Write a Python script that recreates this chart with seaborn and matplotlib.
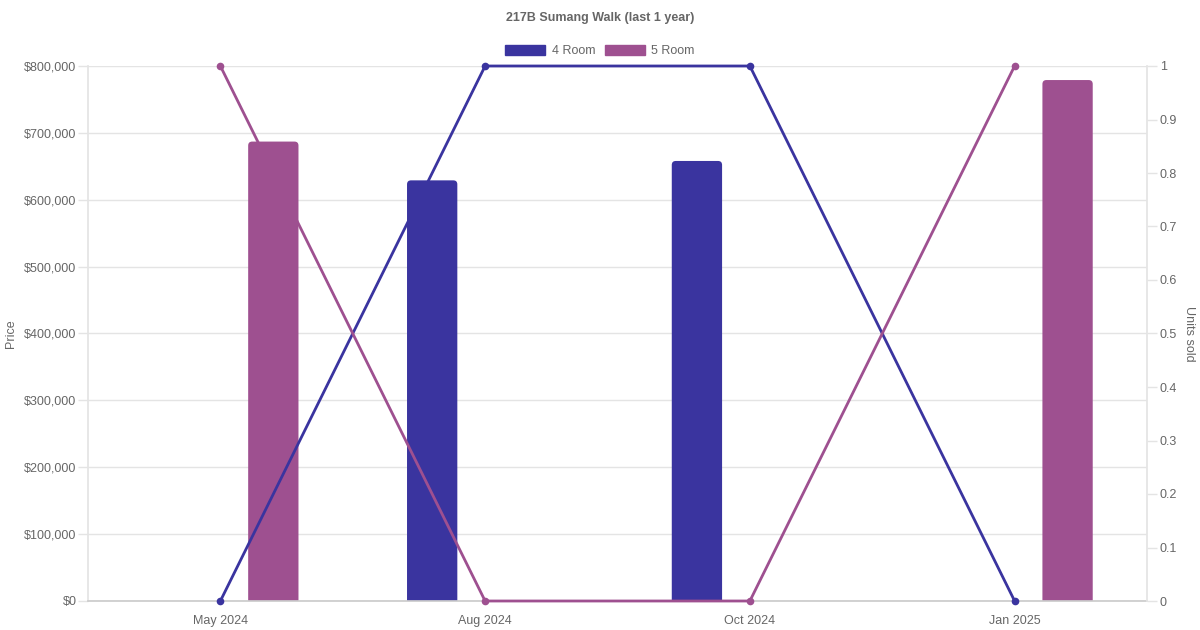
import numpy as np
import pandas as pd
import matplotlib
matplotlib.use("Agg")
import matplotlib.pyplot as plt
import seaborn as sns
from matplotlib.patches import Patch, FancyBboxPatch
from matplotlib.ticker import FuncFormatter, MultipleLocator

months = ["May 2024", "Aug 2024", "Oct 2024", "Jan 2025"]
room_types = ["4 Room", "5 Room"]
price_4room = [np.nan, 629000, 658000, np.nan]
price_5room = [687000, np.nan, np.nan, 779000]
units_4room = [0, 1, 1, 0]
units_5room = [1, 0, 0, 1]

colors = {"4 Room": "#3a349f", "5 Room": "#9e5090"}
text_color = "#666666"
grid_color = "#e4e4e4"

sns.set_theme(style="white")
plt.rcParams['font.family'] = ['Liberation Sans', 'DejaVu Sans']

fig = plt.figure(figsize=(12, 6.3), dpi=100)
ax = fig.add_axes([88/1200, 29/630, (1147-88)/1200, (601-66)/630])

price_df = pd.DataFrame({
    "month": months * 2,
    "type": ["4 Room"] * 4 + ["5 Room"] * 4,
    "price": price_4room + price_5room,
}).dropna()

sns.barplot(data=price_df, x="month", y="price", hue="type", order=months,
            hue_order=room_types, palette=colors, width=0.8, gap=0.525,
            dodge=True, ax=ax, legend=False, saturation=1, errorbar=None)

ax.set_xlim(-0.5, len(months) - 0.5)
ax.set_ylim(0, 800000)

# round the top corners of the bars
px_x = (len(months)) / (1147 - 88)
px_y = 800000 / (601 - 66)
r_px = 4
for p in list(ax.patches):
    x, y = p.get_x(), p.get_y()
    w, h = p.get_width(), p.get_height()
    if not np.isfinite(h) or h <= 0:
        continue
    fc = p.get_facecolor()
    p.remove()
    fb = FancyBboxPatch((x, y - r_px * px_y), w, h + r_px * px_y,
                        boxstyle=f"round,pad=0,rounding_size={r_px * px_x}",
                        mutation_aspect=px_y / px_x, facecolor=fc,
                        edgecolor="none", zorder=2)
    ax.add_patch(fb)

ax.yaxis.set_major_locator(MultipleLocator(100000))
ax.yaxis.set_major_formatter(FuncFormatter(lambda v, p: "${:,.0f}".format(v)))
ax.yaxis.grid(True, color=grid_color, lw=1)
ax.set_axisbelow(True)
ax.set_xlabel("")
ax.set_ylabel("")
ax.tick_params(axis="y", length=7.2, width=1, color=grid_color, labelcolor=text_color,
               labelsize=9, pad=1, left=True)
ax.tick_params(axis="x", length=0, labelcolor=text_color, labelsize=9, pad=10)
for s in ["top", "right"]:
    ax.spines[s].set_visible(False)
ax.spines["left"].set_color(grid_color)
ax.spines["bottom"].set_color("#cccccc")

ax2 = ax.twinx()
xpos = np.arange(len(months))
sns.lineplot(x=xpos, y=units_4room, ax=ax2, color=colors["4 Room"], lw=2.0,
             marker="o", markersize=5.5, markeredgewidth=0)
sns.lineplot(x=xpos, y=units_5room, ax=ax2, color=colors["5 Room"], lw=2.0,
             marker="o", markersize=5.5, markeredgewidth=0)
for ln in ax2.lines:
    ln.set_clip_on(False)
ax2.set_ylim(0, 1)
ax2.set_xlim(-0.5, len(months) - 0.5)
ax2.yaxis.set_major_locator(MultipleLocator(0.1))
ax2.yaxis.set_major_formatter(FuncFormatter(lambda v, p: "{:g}".format(round(v, 1))))
ax2.tick_params(axis="y", length=7.2, width=1, color=grid_color, labelcolor=text_color,
                labelsize=9, pad=2, right=True)
ax2.grid(False)
for s in ["top", "left", "bottom"]:
    ax2.spines[s].set_visible(False)
ax2.spines["right"].set_color(grid_color)
ax2.set_ylabel("")

fig.text(600/1200, 1 - 17.5/630, "217B Sumang Walk (last 1 year)", ha="center", va="center",
         fontsize=9, fontweight="bold", color=text_color)
fig.text(11/1200, 1 - 334/630, "Price", rotation=90, ha="center", va="center",
         fontsize=9, color=text_color)
fig.text(1189/1200, 1 - 334/630, "Units sold", rotation=-90, ha="center", va="center",
         fontsize=9, color=text_color)

handles = [Patch(facecolor=colors[t], edgecolor=colors[t], label=t) for t in room_types]
fig.legend(handles=handles, loc="center", bbox_to_anchor=(600/1200, 1 - 51/630), ncol=2,
           frameon=False, fontsize=9, labelcolor=text_color, handlelength=3.2,
           handleheight=0.9, handletextpad=0.5, columnspacing=0.8)

fig.savefig("out.png", dpi=100)
